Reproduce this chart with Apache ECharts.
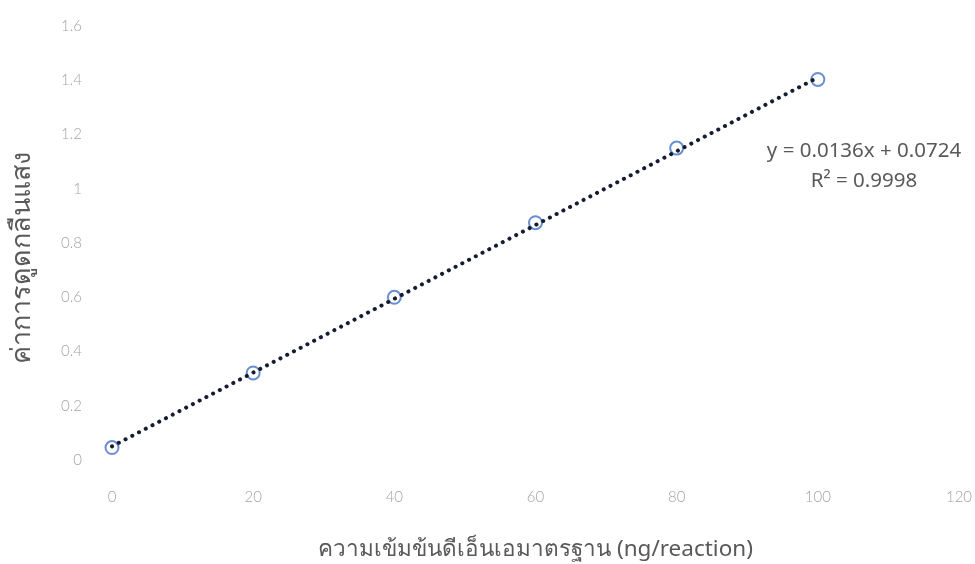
<!DOCTYPE html>
<html>
<head>
<meta charset="utf-8">
<script src="https://cdn.jsdelivr.net/npm/echarts@6/dist/echarts.min.js"></script>
<style>
  html, body { margin: 0; padding: 0; background: #ffffff; }
  #chart { width: 975px; height: 564px; }
</style>
</head>
<body>
<div id="chart"></div>
<script>
// DNA standard concentrations (ng/reaction) and measured absorbance
const concentrations = [0, 20, 40, 60, 80, 100];
const absorbance = [0.068, 0.343, 0.622, 0.897, 1.172, 1.425];

// Linear trendline coefficients shown on the chart
const slope = 0.0136;
const intercept = 0.0724;
const rSquared = 0.9998;

// Axis ranges
const xTicks = [0, 120, 20];   // min, max, interval
const yTicks = [0, 1.6, 0.2];

const xTitle = 'ความเข้มข้นดีเอ็นเอมาตรฐาน (ng/reaction)';
const yTitle = 'ค่าการดูดกลืนแสง';

const points = concentrations.map((x, i) => [x, absorbance[i]]);
const xFirst = concentrations[0];
const xLast = concentrations[concentrations.length - 1];
const trend = [
  [xFirst, slope * xFirst + intercept],
  [xLast, slope * xLast + intercept]
];

const chart = echarts.init(document.getElementById('chart'));
const tickFont = { color: '#a3a3a3', fontSize: 15, fontFamily: 'Lato', fontWeight: 300 };
const titleFont = 'Noto Sans, sans-serif';

chart.setOption({
  animation: false,
  backgroundColor: '#ffffff',
  grid: { left: 112, right: 16, top: 32, bottom: 98, containLabel: false, outerBoundsMode: 'none' },
  xAxis: {
    type: 'value',
    min: xTicks[0], max: xTicks[1], interval: xTicks[2],
    axisLine: { show: false },
    axisTick: { show: false },
    splitLine: { show: false },
    axisLabel: Object.assign({ margin: 24 }, tickFont),
    name: xTitle,
    nameLocation: 'middle',
    nameGap: 72,
    nameTextStyle: { color: '#595959', fontSize: 22.5, fontFamily: titleFont }
  },
  yAxis: {
    type: 'value',
    min: yTicks[0], max: yTicks[1], interval: yTicks[2],
    axisLine: { show: false },
    axisTick: { show: false },
    splitLine: { show: false },
    axisLabel: Object.assign({ margin: 30, verticalAlign: 'bottom', lineHeight: 12 }, tickFont)
  },
  series: [
    {
      type: 'scatter',
      data: points,
      symbol: 'circle',
      symbolSize: 13,
      itemStyle: { color: 'rgba(255,255,255,0)', borderColor: '#4472C4', borderWidth: 2 },
      z: 2
    },
    {
      type: 'line',
      data: trend,
      symbol: 'none',
      lineStyle: { color: '#161d33', width: 4, type: [0.1, 7.5], cap: 'round' },
      z: 3
    }
  ],
  graphic: [
    {
      type: 'text',
      x: 22, y: 258,
      rotation: Math.PI / 2,
      style: { text: yTitle, fill: '#595959', fontSize: 27, fontFamily: titleFont, align: 'center', verticalAlign: 'middle' }
    },
    {
      type: 'text',
      x: 864, y: 151,
      style: { text: 'y = ' + slope.toFixed(4) + 'x + ' + intercept.toFixed(4), fill: '#595959', fontSize: 20.5, fontFamily: titleFont, align: 'center', verticalAlign: 'middle' }
    },
    {
      type: 'text',
      x: 864, y: 181,
      style: { text: 'R² = ' + rSquared.toFixed(4), fill: '#595959', fontSize: 20.5, fontFamily: titleFont, align: 'center', verticalAlign: 'middle' }
    }
  ]
});
</script>
</body>
</html>
